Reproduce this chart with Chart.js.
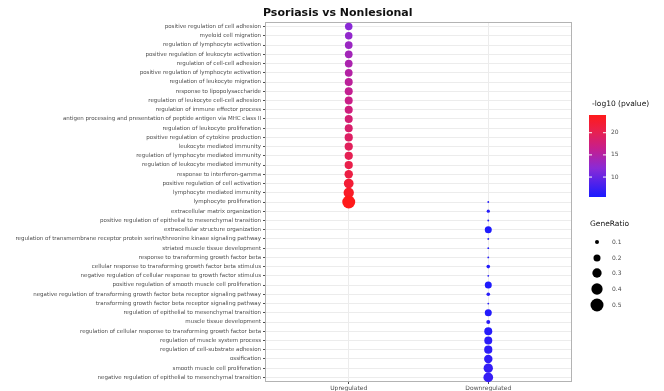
<!DOCTYPE html>
<html>
<head>
<meta charset="utf-8">
<script src="https://cdn.jsdelivr.net/npm/chart.js@4/dist/chart.umd.min.js"></script>
<style>
html,body{margin:0;padding:0;background:#fff;}
#wrap{width:664px;height:391px;position:relative;}
</style>
</head>
<body>
<div id="wrap"><canvas id="c" width="664" height="391"></canvas></div>
<script>
const chartTitle = "Psoriasis vs Nonlesional";
const groups = ["Upregulated", "Downregulated"];
const terms = [
  "positive regulation of cell adhesion",
  "myeloid cell migration",
  "regulation of lymphocyte activation",
  "positive regulation of leukocyte activation",
  "regulation of cell-cell adhesion",
  "positive regulation of lymphocyte activation",
  "regulation of leukocyte migration",
  "response to lipopolysaccharide",
  "regulation of leukocyte cell-cell adhesion",
  "regulation of immune effector process",
  "antigen processing and presentation of peptide antigen via MHC class II",
  "regulation of leukocyte proliferation",
  "positive regulation of cytokine production",
  "leukocyte mediated immunity",
  "regulation of lymphocyte mediated immunity",
  "regulation of leukocyte mediated immunity",
  "response to interferon-gamma",
  "positive regulation of cell activation",
  "lymphocyte mediated immunity",
  "lymphocyte proliferation",
  "extracellular matrix organization",
  "positive regulation of epithelial to mesenchymal transition",
  "extracellular structure organization",
  "regulation of transmembrane receptor protein serine/threonine kinase signaling pathway",
  "striated muscle tissue development",
  "response to transforming growth factor beta",
  "cellular response to transforming growth factor beta stimulus",
  "negative regulation of cellular response to growth factor stimulus",
  "positive regulation of smooth muscle cell proliferation",
  "negative regulation of transforming growth factor beta receptor signaling pathway",
  "transforming growth factor beta receptor signaling pathway",
  "regulation of epithelial to mesenchymal transition",
  "muscle tissue development",
  "regulation of cellular response to transforming growth factor beta",
  "regulation of muscle system process",
  "regulation of cell-substrate adhesion",
  "ossification",
  "smooth muscle cell proliferation",
  "negative regulation of epithelial to mesenchymal transition"
];
// Upregulated column: rows 0..19
const upTerms = terms.slice(0, 20);
const upRatio = [0.22,0.22,0.23,0.23,0.23,0.23,0.24,0.24,0.24,0.24,0.24,0.24,0.25,0.25,0.25,0.25,0.26,0.32,0.35,0.5];
const upLogP  = [12.0,12.6,13.2,13.8,14.4,15.0,15.6,16.2,16.8,17.4,18.0,18.5,19.0,19.5,20.0,20.5,21.0,22.0,23.0,24.0];
// Downregulated column: rows 19..38
const downTerms = terms.slice(19);
const downRatio = [0.03,0.08,0.05,0.2,0.04,0.04,0.04,0.09,0.04,0.2,0.09,0.04,0.2,0.1,0.24,0.24,0.25,0.26,0.3,0.32];
const downLogP  = [6.0,6.2,6.3,5.8,6.1,6.0,6.2,5.9,6.0,5.8,6.3,6.1,6.0,6.4,6.2,6.5,6.6,6.8,7.0,7.2];
const colorTicks = [20, 15, 10];
const sizeTicks = [0.1, 0.2, 0.3, 0.4, 0.5];
const colorMin = 5.5, colorMax = 24;

const stops = [[0,[26,26,255]],[0.35,[138,42,214]],[0.6,[200,30,138]],[0.8,[232,32,78]],[1,[255,26,26]]];
function colorFor(v){
  let t = Math.max(0, Math.min(1, (v - colorMin) / (colorMax - colorMin)));
  for (let i = 1; i < stops.length; i++) {
    if (t <= stops[i][0]) {
      const a = stops[i-1], b = stops[i];
      const f = (t - a[0]) / (b[0] - a[0]);
      const c = a[1].map((x, k) => Math.round(x + (b[1][k] - x) * f));
      return `rgb(${c[0]},${c[1]},${c[2]})`;
    }
  }
  return 'rgb(255,26,26)';
}
function radiusFor(r){ return Math.max(0.9, -1.64 + 11.5 * Math.sqrt(r)); }

const dsUp = upTerms.map((t, i) => ({x: 0, y: t, r: upRatio[i], v: upLogP[i]}));
const dsDown = downTerms.map((t, i) => ({x: 1, y: t, r: downRatio[i], v: downLogP[i]}));

const FONT = "'DejaVu Sans', sans-serif";

const decor = {
  id: 'decor',
  beforeDatasetsDraw(chart){
    const {ctx, chartArea: a} = chart;
    ctx.save();
    ctx.strokeStyle = '#b3b3b3';
    ctx.lineWidth = 1;
    ctx.strokeRect(a.left + 0.5, a.top + 0.5, a.right - a.left - 1, a.bottom - a.top - 1);
    ctx.restore();
  },
  afterDraw(chart){
    const {ctx, chartArea: a} = chart;
    ctx.save();
    ctx.fillStyle = '#111';
    ctx.font = `bold 11px ${FONT}`;
    ctx.textBaseline = 'middle';
    ctx.textAlign = 'left';
    ctx.fillText(chartTitle, a.left - 2, 13);
    const bx = 589, bw = 17, top = 115, bot = 197;
    const g = ctx.createLinearGradient(0, bot, 0, top);
    for (let i = 0; i <= 20; i++) g.addColorStop(i/20, colorFor(colorMin + (colorMax - colorMin) * i / 20));
    ctx.fillStyle = g;
    ctx.fillRect(bx, top, bw, bot - top);
    ctx.font = `7.5px ${FONT}`;
    ctx.fillStyle = '#111';
    ctx.fillText('-log10 (pvalue)', bx + 3, 104);
    ctx.font = `6px ${FONT}`;
    ctx.fillStyle = '#4d4d4d';
    colorTicks.forEach(v => {
      const y = bot - (v - colorMin) / (colorMax - colorMin) * (bot - top);
      ctx.strokeStyle = '#fff';
      ctx.beginPath();
      ctx.moveTo(bx, y); ctx.lineTo(bx + 3, y);
      ctx.moveTo(bx + bw - 3, y); ctx.lineTo(bx + bw, y);
      ctx.stroke();
      ctx.fillText(String(v), bx + bw + 5, y);
    });
    ctx.font = `7.5px ${FONT}`;
    ctx.fillStyle = '#111';
    ctx.fillText('GeneRatio', bx + 1, 224);
    const ys = [242, 258, 273, 289, 305];
    sizeTicks.forEach((s, i) => {
      ctx.fillStyle = '#000';
      ctx.beginPath();
      ctx.arc(bx + 8, ys[i], radiusFor(s), 0, Math.PI * 2);
      ctx.fill();
      ctx.fillStyle = '#4d4d4d';
      ctx.font = `6px ${FONT}`;
      ctx.fillText(String(s), bx + 23, ys[i]);
    });
    ctx.restore();
  }
};

new Chart(document.getElementById('c'), {
  type: 'scatter',
  data: {datasets: [{data: dsUp}, {data: dsDown}]},
  options: {
    responsive: false,
    animation: false,
    devicePixelRatio: 1,
    layout: {padding: {top: 22, right: 92, left: 0, bottom: 0}},
    plugins: {legend: {display: false}, tooltip: {enabled: false}, title: {display: false}},
    elements: {point: {
      radius: ctx => radiusFor(ctx.raw ? ctx.raw.r : 0.1),
      backgroundColor: ctx => colorFor(ctx.raw ? ctx.raw.v : 10),
      borderWidth: 0
    }},
    scales: {
      x: {
        type: 'linear',
        min: -0.6,
        max: groups.length - 1 + 0.6,
        afterBuildTicks: s => { s.ticks = groups.map((g, i) => ({value: i})); },
        afterFit: s => { s.height = 9; },
        grid: {color: '#ececec', tickLength: 2, drawTicks: true, tickColor: '#4d4d4d'},
        border: {display: false},
        ticks: {font: {size: 6, family: FONT}, color: '#4d4d4d', padding: 1, maxRotation: 0,
                callback: v => groups[v] !== undefined ? groups[v] : ''}
      },
      y: {
        type: 'category',
        labels: terms,
        offset: true,
        afterFit: s => { s.width = 265; },
        grid: {color: '#ececec', offset: false, tickLength: 2, tickColor: '#4d4d4d'},
        border: {display: false},
        ticks: {font: {size: 5.5, family: FONT}, color: '#4d4d4d', padding: 2, autoSkip: false}
      }
    }
  },
  plugins: [decor]
});
</script>
</body>
</html>
